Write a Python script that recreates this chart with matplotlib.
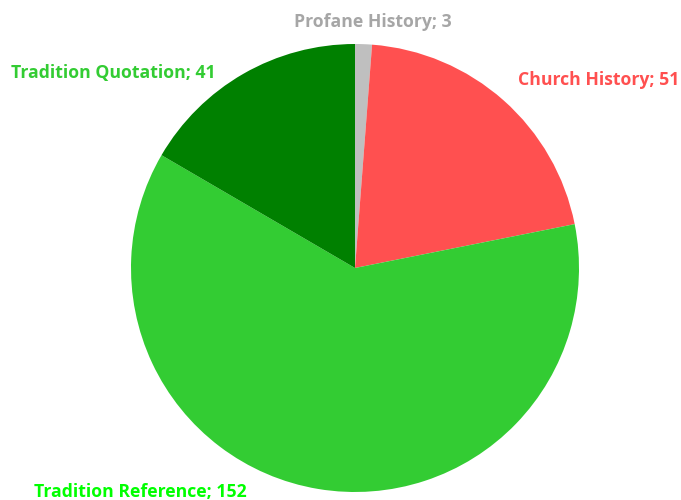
import matplotlib.pyplot as plt

labels = ['Profane History', 'Church History', 'Tradition Reference', 'Tradition Quotation']
values = [3, 51, 152, 41]
colors = ['#BFBFBF', '#FF5050', '#33CC33', '#008000']
label_colors = ['#A6A6A6', '#FF5050', '#00FF00', '#33CC33']
# label centres in pixels (x from left, y from top)
label_pos = [(373, 22), (599, 80), (140, 492), (113, 73)]

W, H = 681, 500
fig = plt.figure(figsize=(W / 100, H / 100), dpi=100)
cx, cy, r = 355, 268, 224
ax = fig.add_axes([(cx - r) / W, (H - cy - r) / H, 2 * r / W, 2 * r / H])
ax.pie(values, colors=colors, startangle=90, counterclock=False,
       wedgeprops=dict(linewidth=0))
ax.set_aspect('equal')
ax.set_xlim(-1, 1)
ax.set_ylim(-1, 1)
ax.axis('off')

for lab, v, c, (x, y) in zip(labels, values, label_colors, label_pos):
    fig.text(x / W, 1 - y / H, f'{lab}; {v}', color=c, ha='center', va='center',
             fontsize=12.7, fontweight='bold', family='Open Sans')

fig.savefig('out.png', dpi=100)
